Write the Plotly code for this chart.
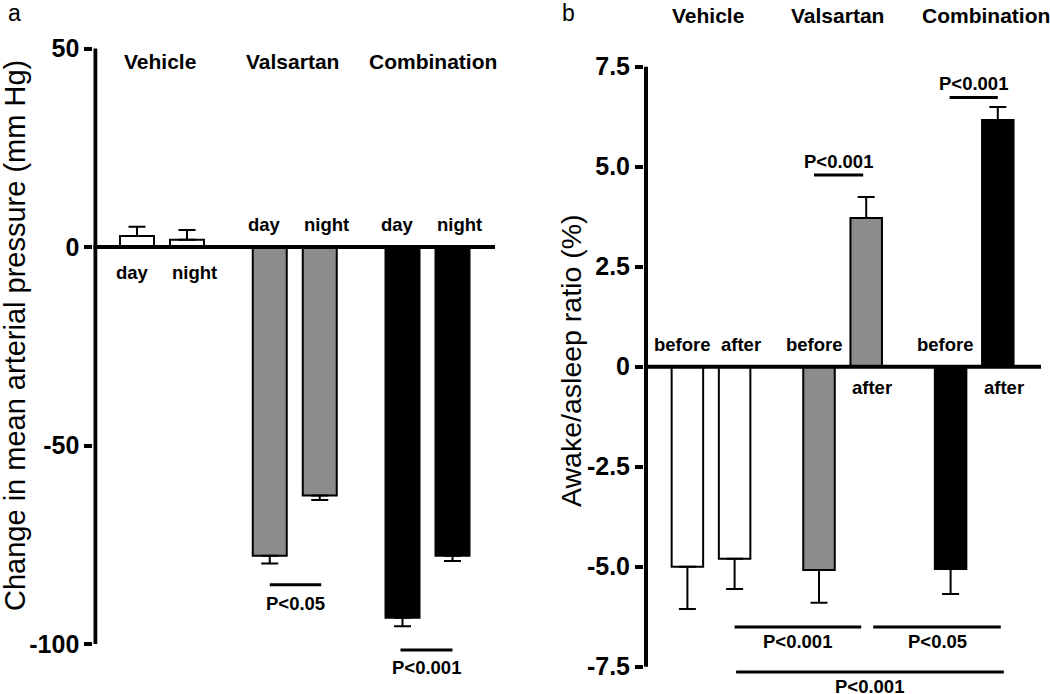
import plotly.graph_objects as go

# ---------------- data ----------------
groups = ["Vehicle", "Valsartan", "Combination"]

# panel a: change in mean arterial pressure (mm Hg)
periods = ["day", "night"]
map_day = [2.8, -77.8, -93.4]
map_night = [1.8, -62.6, -77.8]
map_day_sem = [2.3, 1.9, 2.1]
map_night_sem = [2.5, 1.1, 1.3]

# panel b: awake/asleep ratio (%)
phases = ["before", "after"]
ratio_before = [-5.0, -5.08, -5.06]
ratio_after = [-4.8, 3.72, 6.17]
ratio_before_sem = [1.06, 0.82, 0.62]
ratio_after_sem = [0.76, 0.52, 0.32]

a_tickvals = [50, 0, -50, -100]
a_ticktext = ["50", "0", "-50", "-100"]
b_tickvals = [7.5, 5.0, 2.5, 0, -2.5, -5.0, -7.5]
b_ticktext = ["7.5", "5.0", "2.5", "0", "-2.5", "-5.0", "-7.5"]

# significance brackets: label, (group, sub) start, (group, sub) end, line level, text level
a_sig_labels = ["P<0.05", "P<0.001"]
a_sig_pairs = [((1, 0), (1, 1)), ((2, 0), (2, 1))]
a_sig_levels = [(-85.1, -89.7), (-101.5, -106.0)]

b_sig_labels = ["P<0.001", "P<0.001", "P<0.001", "P<0.05", "P<0.001"]
b_sig_pairs = [((1, 0), (1, 1)), ((2, 0), (2, 1)), ((0, 1), (1, 1)),
               ((1, 1), (2, 1)), ((0, 1), (2, 1))]
b_sig_levels = [(4.79, 5.14), (6.73, 7.09), (-6.51, -6.86), (-6.51, -6.86), (-7.63, -8.0)]

# ---------------- styling / geometry ----------------
W, H = 1050, 694
FONT = "Liberation Sans, Arial, Helvetica, sans-serif"
group_colors = ["#ffffff", "#8c8c8c", "#000000"]
AXW = 4
SMALL = 18.5

geom = {
    "a": dict(left=93.3, right=495, g0=162, gstep=132.75, half=25, barw=34,
              zero=247, ppu=3.97, sub_dx=(-5, 7), sub_dy=(23, -25),
              title_y=46.85, title_dx=(-2, -2.5, 5),
              sig_dx=[(0, 1.5), (-2, 0)], ymin=-100, ymax=50),
    "b": dict(left=644, right=1041, g0=711, gstep=131.6, half=23.6, barw=31.5,
              zero=366.7, ppu=40, sub_dx=(-5, 6), sub_dy=(22, -21),
              title_y=8.79, title_dx=(-3, -5, 12),
              sig_dx=[(-5, -3), (-1, 0), (0, -5), (7, 3), (1.5, 6)],
              ymin=-7.5, ymax=7.5),
}

fig = go.Figure()
shapes = []
annotations = []


def add_panel(key, xname, yname, vals_pair, sems_pair, sublabels,
              sig_labels, sig_pairs, sig_levels, tickvals, ticktext):
    g = geom[key]
    xref, yref = xname, yname
    gs = g["gstep"]

    def cx(gi, si):
        return gi + (-1 if si == 0 else 1) * g["half"] / gs

    xs, ys, cols, up, dn = [], [], [], [], []
    for gi in range(len(groups)):
        for si in range(2):
            v = vals_pair[si][gi]
            e = sems_pair[si][gi]
            xs.append(cx(gi, si))
            ys.append(v)
            cols.append(group_colors[gi])
            up.append(e if v >= 0 else 0)
            dn.append(e if v < 0 else 0)
            # sub label on the opposite side of the bar
            dy = g["sub_dy"][0] if v < 0 else g["sub_dy"][1]
            annotations.append(dict(
                x=cx(gi, si), y=0, xref=xref, yref=yref, text=sublabels[si],
                showarrow=False, xshift=g["sub_dx"][si], yshift=dy,
                font=dict(family=FONT, size=SMALL, color="black", weight="bold"),
                xanchor="center", yanchor="middle"))
        annotations.append(dict(
            x=gi, y=g["title_y"], xref=xref, yref=yref, text=groups[gi],
            showarrow=False, xshift=g["title_dx"][gi],
            font=dict(family=FONT, size=21, color="black", weight="bold"),
            xanchor="center", yanchor="middle"))

    fig.add_trace(go.Bar(
        x=xs, y=ys, width=g["barw"] / gs, xaxis=xname, yaxis=yname,
        marker=dict(color=cols, line=dict(color="black", width=2)),
        error_y=dict(type="data", symmetric=False, array=up, arrayminus=dn,
                     color="black", thickness=2, width=8.5),
        showlegend=False, hoverinfo="skip"))

    # significance brackets
    for lab, (p0, p1), (ly, ty), (d0, d1) in zip(sig_labels, sig_pairs, sig_levels, g["sig_dx"]):
        x0 = cx(*p0) + d0 / gs
        x1 = cx(*p1) + d1 / gs
        shapes.append(dict(type="line", xref=xref, yref=yref, x0=x0, x1=x1,
                           y0=ly, y1=ly, line=dict(color="black", width=3),
                           layer="above"))
        annotations.append(dict(
            x=(x0 + x1) / 2, y=ty, xref=xref, yref=yref, text=lab, showarrow=False,
            font=dict(family=FONT, size=SMALL, color="black", weight="bold"),
            xanchor="center", yanchor="middle"))

    # axes lines
    xr = [(g["left"] - g["g0"]) / gs, (g["right"] - g["g0"]) / gs]
    yr = [-(H - g["zero"]) / g["ppu"], g["zero"] / g["ppu"]]
    x_axis = (g["left"] + AXW / 2 - g["g0"]) / gs
    shapes.append(dict(type="line", xref=xref, yref=yref, x0=x_axis, x1=x_axis,
                       y0=g["ymin"], y1=g["ymax"], line=dict(color="black", width=AXW),
                       layer="above"))
    shapes.append(dict(type="line", xref=xref, yref=yref, x0=xr[0], x1=xr[1],
                       y0=0, y1=0, line=dict(color="black", width=AXW),
                       layer="above"))

    xa = dict(domain=[g["left"] / W, g["right"] / W], range=xr, visible=False,
              fixedrange=True, anchor=yname)
    ya = dict(domain=[0, 1], range=yr, showgrid=False, zeroline=False, showline=False,
              ticks="outside", ticklen=8, tickwidth=AXW, tickcolor="black",
              tickvals=tickvals, ticktext=ticktext, automargin=False,
              tickfont=dict(family=FONT, size=25, color="black", weight="bold"),
              fixedrange=True, anchor=xname)
    return xa, ya


xa1, ya1 = add_panel("a", "x", "y", (map_day, map_night), (map_day_sem, map_night_sem),
                     periods, a_sig_labels, a_sig_pairs, a_sig_levels, a_tickvals, a_ticktext)
xa2, ya2 = add_panel("b", "x2", "y2", (ratio_before, ratio_after),
                     (ratio_before_sem, ratio_after_sem),
                     phases, b_sig_labels, b_sig_pairs, b_sig_levels, b_tickvals, b_ticktext)


def paper(px, py):
    return px / W, 1 - py / H


# axis titles
for txt, (px, py), fs in [("Change in mean arterial pressure (mm Hg)", (15, 336), 29),
                          ("Awake/asleep ratio (%)", (571, 361), 28.5)]:
    x, y = paper(px, py)
    annotations.append(dict(x=x, y=y, xref="paper", yref="paper", text=txt,
                            textangle=-90, showarrow=False, xanchor="center",
                            yanchor="middle",
                            font=dict(family=FONT, size=fs, color="black")))

# panel letters
for txt, (px, py) in [("a", (14.5, 13)), ("b", (568, 13))]:
    x, y = paper(px, py)
    annotations.append(dict(x=x, y=y, xref="paper", yref="paper", text=txt,
                            showarrow=False, xanchor="center", yanchor="middle",
                            font=dict(family=FONT, size=23, color="black")))

fig.update_layout(
    width=W, height=H, margin=dict(l=0, r=0, t=0, b=0, pad=0),
    paper_bgcolor="white", plot_bgcolor="white",
    xaxis=xa1, yaxis=ya1, xaxis2=xa2, yaxis2=ya2,
    shapes=shapes, annotations=annotations, showlegend=False,
)

fig.write_html("out.html",
               config={"displayModeBar": False, "staticPlot": True},
               post_script="document.body.style.margin='0px';"
                           "document.body.style.padding='0px';")
